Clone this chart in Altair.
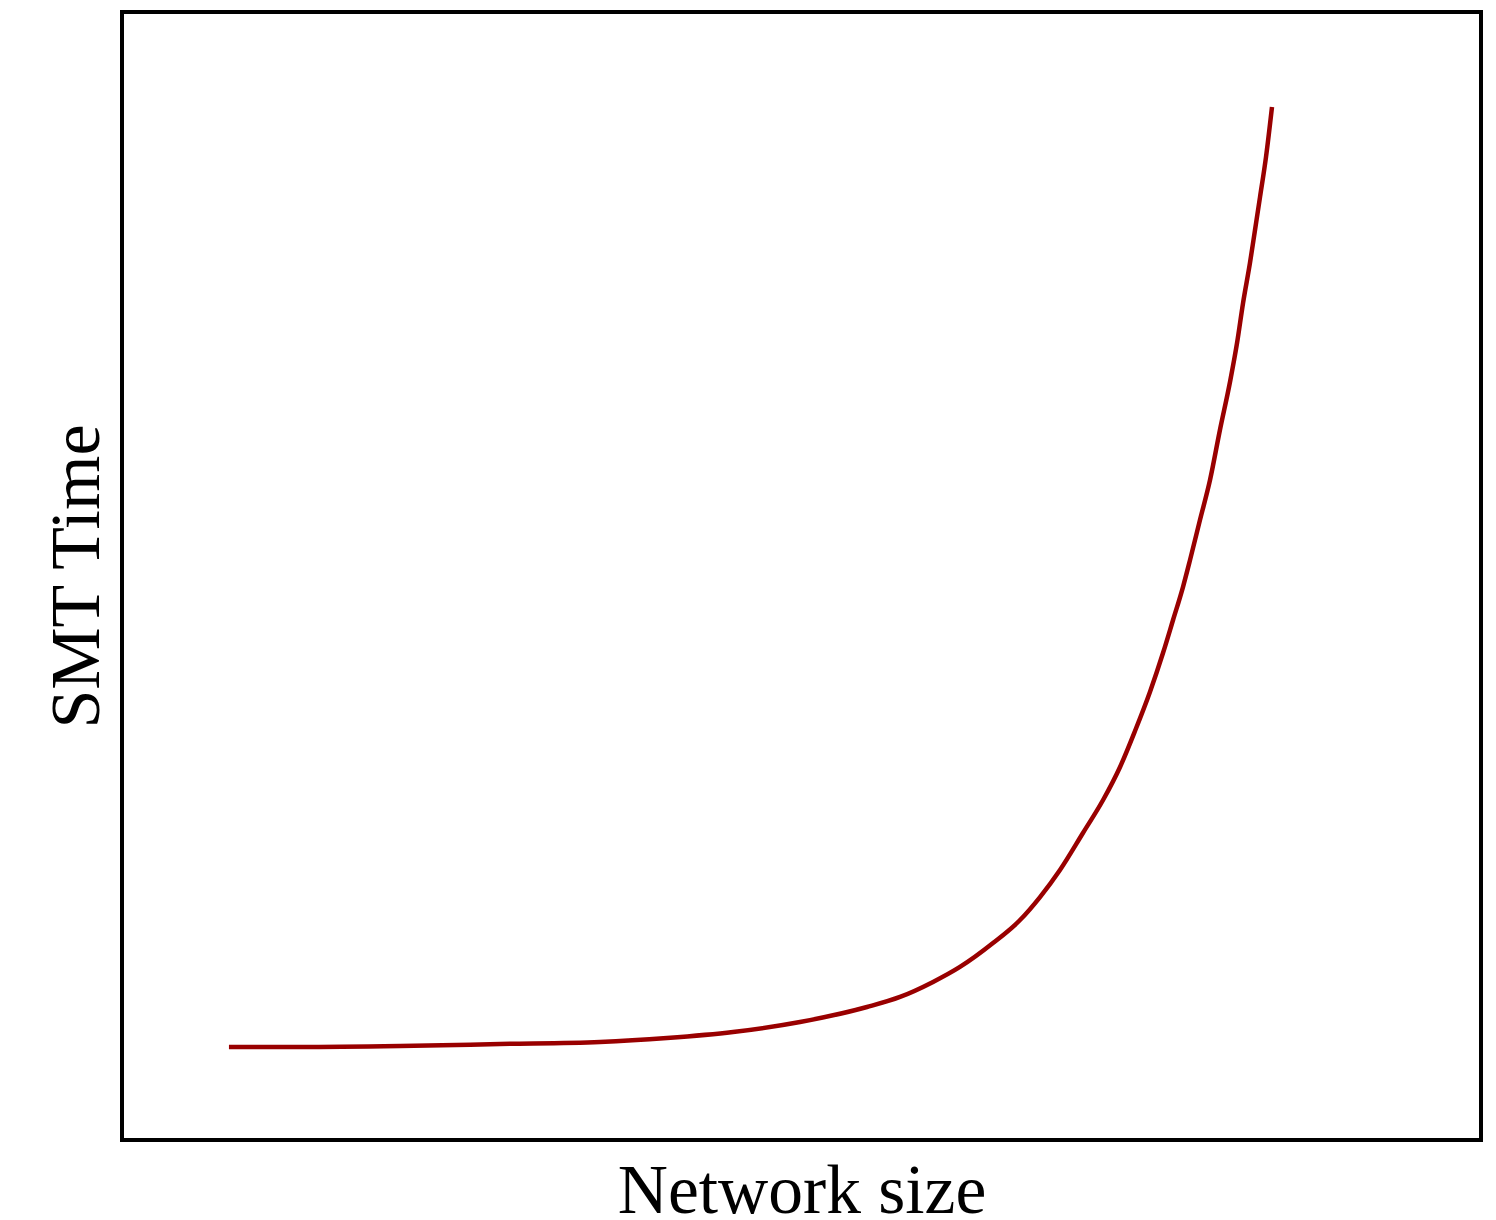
import altair as alt
import pandas as pd

network_size = [7.87, 13.10, 20.46, 27.81, 35.17, 40.10, 44.96, 49.89, 54.82, 57.25,
                59.68, 61.66, 64.09, 66.08, 67.55, 69.02, 70.71, 72.19, 73.44, 74.54,
                75.64, 76.60, 77.34, 78.07, 78.59, 79.32, 80.06, 80.79, 81.53, 82.05,
                82.49, 83.00, 83.37, 83.74, 84.18, 84.62]
smt_time = [8.24, 8.24, 8.33, 8.51, 8.69, 9.04, 9.57, 10.46, 11.79, 12.68,
            14.01, 15.34, 17.46, 19.50, 21.54, 23.94, 27.22, 30.14, 33.07, 36.26,
            39.72, 43.17, 46.10, 49.02, 51.42, 54.96, 58.51, 62.94, 67.20, 70.66,
            74.20, 77.75, 80.67, 83.60, 87.15, 91.58]

df = pd.DataFrame({"size": network_size, "time": smt_time})

FONT = "Liberation Serif"

chart = (
    alt.Chart(df)
    .mark_line(color="#990000", strokeWidth=4.5, interpolate="monotone")
    .encode(
        x=alt.X("size:Q", scale=alt.Scale(domain=[0, 100], nice=False, zero=False),
                axis=alt.Axis(title="Network size", ticks=False, labels=False, domain=False,
                              grid=False, titleFont=FONT, titleFontSize=69.5,
                              titleFontWeight="normal", titleColor="black",
                              titleBaseline="alphabetic", titlePadding=72)),
        y=alt.Y("time:Q", scale=alt.Scale(domain=[0, 100], nice=False, zero=False),
                axis=alt.Axis(title="SMT Time", ticks=False, labels=False, domain=False,
                              grid=False, titleFont=FONT, titleFontSize=70,
                              titleFontWeight="normal", titleColor="black",
                              titleBaseline="alphabetic", titlePadding=24)),
    )
    .properties(
        width=1359, height=1128,
        autosize=alt.AutoSizeParams(type="none"),
        padding={"left": 114, "top": 4, "right": 5, "bottom": 100},
    )
    .configure_view(stroke="black", strokeWidth=4)
)

chart.save("out.html", embed_options={"renderer": "svg", "actions": False})
